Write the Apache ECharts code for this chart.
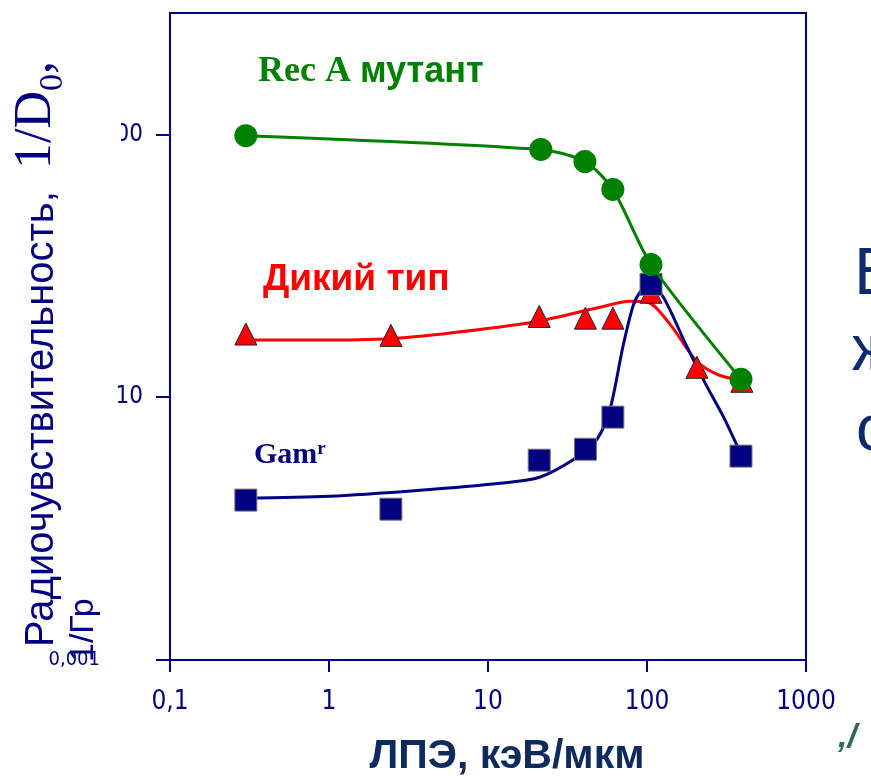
<!DOCTYPE html>
<html>
<head>
<meta charset="utf-8">
<script src="https://cdn.jsdelivr.net/npm/echarts@6/dist/echarts.min.js"></script>
<style>
  html, body { margin: 0; padding: 0; background: #fff; }
  #chart { width: 871px; height: 781px; }
</style>
</head>
<body>
<div id="chart"></div>
<script>
// tick labels
const xTickLabels = ['0,1', '1', '10', '100', '1000']
const yTickLabels = ['0,001', '10', '100']

// Rec A mutant (green circles, line through points)
const recA = [[0.3, 99], [21.5, 87.7], [40.7, 78.9], [61, 61.8], [106, 32], [390, 11.7]]

// wild type (red triangles) and its fitted curve
const wildPts = [[0.3, 17.4], [2.45, 17.2], [21, 20.3], [41, 20], [61, 20], [106, 25.1], [206, 13.0], [395, 11.5]]
const wildFit = [[0.275, 16.5], [1, 16.5], [2.8, 16.8], [8.9, 18.1], [21, 19.5], [50.6, 22], [78, 23.2],
  [101, 23], [140, 18.9], [206, 13.7], [288, 12.1], [444, 11.5]]

// Gam r (navy squares) and its fitted curve
const gamPts = [[0.3, 4.06], [2.45, 3.75], [21, 5.76], [41, 6.34], [61, 8.4], [106, 26.9], [390, 5.97]]
const gamFit = [[0.297, 4.13], [1, 4.2], [3.74, 4.43], [11.9, 4.71], [21.1, 4.96], [36.3, 5.91], [48.5, 6.92],
  [58.5, 9.0], [70.6, 15.6], [81.6, 22.2], [90.3, 25.1], [104, 26.9], [126, 24.2], [178, 15.6],
  [238, 11.0], [301, 8.47], [390, 6.07]]

const navy = '#000080'
const narrow = "'Liberation Sans Narrow', 'DejaVu Sans Condensed', sans-serif"

const chart = echarts.init(document.getElementById('chart'))

chart.setOption({
  animation: false,
  backgroundColor: '#fff',
  grid: {
    left: 170,
    right: 65,
    top: 13,
    bottom: 121,
    show: true,
    borderColor: navy,
    borderWidth: 2
  },
  xAxis: {
    type: 'log',
    logBase: 10,
    min: 0.1,
    max: 1000,
    axisLine: { lineStyle: { color: navy, width: 2 } },
    axisTick: { length: 12, lineStyle: { color: navy, width: 2 } },
    splitLine: { show: false },
    axisLabel: {
      color: navy,
      fontFamily: narrow,
      fontSize: 26,
      margin: 29,
      formatter: v => xTickLabels[Math.round(Math.log10(v)) + 1]
    }
  },
  yAxis: {
    type: 'log',
    logBase: 10,
    min: 1,
    max: 290,
    axisLine: { lineStyle: { color: navy, width: 2 } },
    axisTick: { length: 14, lineStyle: { color: navy, width: 2 }, customValues: [1, 10, 100] },
    splitLine: { show: false },
    axisLabel: {
      color: navy,
      fontFamily: narrow,
      fontSize: 24,
      margin: 27,
      customValues: [1, 10, 100],
      formatter: v => {
        const i = Math.round(Math.log10(v))
        return i === 0 ? '{low|' + yTickLabels[0] + '}' : yTickLabels[i]
      },
      rich: {
        low: { color: navy, fontFamily: narrow, fontSize: 20, padding: [0, 43, 0, 0] }
      }
    }
  },
  series: [
    {
      name: 'Дикий тип',
      type: 'line',
      data: wildFit,
      smooth: 0.3,
      showSymbol: false,
      lineStyle: { color: '#ff0000', width: 3 },
      z: 2
    },
    {
      name: 'Gamr',
      type: 'line',
      data: gamFit,
      smooth: 0.3,
      showSymbol: false,
      lineStyle: { color: navy, width: 3 },
      z: 3
    },
    {
      name: 'Rec A мутант',
      type: 'line',
      data: recA,
      smooth: 0.25,
      symbol: 'circle',
      symbolSize: 23,
      itemStyle: { color: '#008000', opacity: 1 },
      lineStyle: { color: '#008000', width: 3 },
      z: 6
    },
    {
      name: 'Дикий тип точки',
      type: 'scatter',
      data: wildPts,
      symbol: 'triangle',
      symbolSize: 22,
      itemStyle: { color: '#ff0000', borderColor: '#222', borderWidth: 1, opacity: 1 },
      z: 4
    },
    {
      name: 'Gamr точки',
      type: 'scatter',
      data: gamPts,
      symbol: 'rect',
      symbolSize: 22,
      itemStyle: { color: navy, borderColor: '#777', borderWidth: 1, opacity: 1 },
      z: 5
    }
  ],
  graphic: [
    // covers the hidden part of the "100" tick label, as in the source slide
    { type: 'rect', left: 96, top: 120, shape: { width: 25, height: 30 }, style: { fill: '#fff' }, z: 100 },
    {
      type: 'text', x: 36, y: 647, rotation: Math.PI / 2,
      style: {
        text: '{a|Радиочувствительность,  }{b|1/D}{s|0}{b|,}',
        textAlign: 'left', textVerticalAlign: 'middle',
        rich: {
          a: { fontFamily: 'Liberation Sans, Arial, sans-serif', fontSize: 40, fill: navy, verticalAlign: 'bottom' },
          b: { fontFamily: 'Liberation Serif, serif', fontSize: 52, fill: navy, verticalAlign: 'bottom' },
          s: { fontFamily: 'Liberation Serif, serif', fontSize: 34, fill: navy, verticalAlign: 'bottom', padding: [0, 0, -8, 0] }
        }
      }
    },
    {
      type: 'text', x: 84, y: 662, rotation: Math.PI / 2,
      style: {
        text: '1/Гр', textAlign: 'left', textVerticalAlign: 'middle',
        font: '34px Liberation Sans, Arial, sans-serif', fill: navy
      }
    },
    {
      type: 'text', x: 507, y: 757,
      style: {
        text: 'ЛПЭ, кэВ/мкм', textAlign: 'center', textVerticalAlign: 'middle',
        font: 'bold 41px Liberation Sans, Arial, sans-serif', fill: '#0f2a5c'
      }
    },
    {
      type: 'text', x: 258, y: 72,
      style: {
        text: '{r|Rec A }{c|мутант}', textVerticalAlign: 'middle',
        rich: {
          r: { fontFamily: 'Liberation Serif, serif', fontWeight: 'bold', fontSize: 36, fill: '#008000' },
          c: { fontFamily: 'Liberation Sans, Arial, sans-serif', fontWeight: 'bold', fontSize: 36, fill: '#008000' }
        }
      }
    },
    {
      type: 'text', x: 263, y: 280,
      style: {
        text: 'Дикий тип', textVerticalAlign: 'middle',
        font: 'bold 37px Liberation Sans, Arial, sans-serif', fill: '#ff0000'
      }
    },
    {
      type: 'text', x: 254, y: 455,
      style: {
        text: '{g|Gam}{s|r}', textVerticalAlign: 'middle',
        rich: {
          g: { fontFamily: 'Liberation Serif, serif', fontWeight: 'bold', fontSize: 30, fill: navy },
          s: { fontFamily: 'Liberation Serif, serif', fontWeight: 'bold', fontSize: 19, fill: navy, verticalAlign: 'top', padding: [0, 0, 12, 0] }
        }
      }
    },
    // cut-off slide text at the right edge
    { type: 'text', x: 854, y: 276, style: { text: 'Б', textVerticalAlign: 'middle', font: '66px Liberation Sans, Arial, sans-serif', fill: '#0d2b6b' } },
    { type: 'text', x: 852, y: 352, style: { text: 'ж', textVerticalAlign: 'middle', font: '64px Liberation Sans, Arial, sans-serif', fill: '#0d2b6b' } },
    { type: 'text', x: 856, y: 432, style: { text: 'с', textVerticalAlign: 'middle', font: '64px Liberation Sans, Arial, sans-serif', fill: '#0d2b6b' } },
    { type: 'text', x: 838, y: 738, style: { text: ',/', textVerticalAlign: 'middle', font: 'italic bold 34px Liberation Sans, Arial, sans-serif', fill: '#2e6b55' } }
  ]
})
</script>
</body>
</html>
